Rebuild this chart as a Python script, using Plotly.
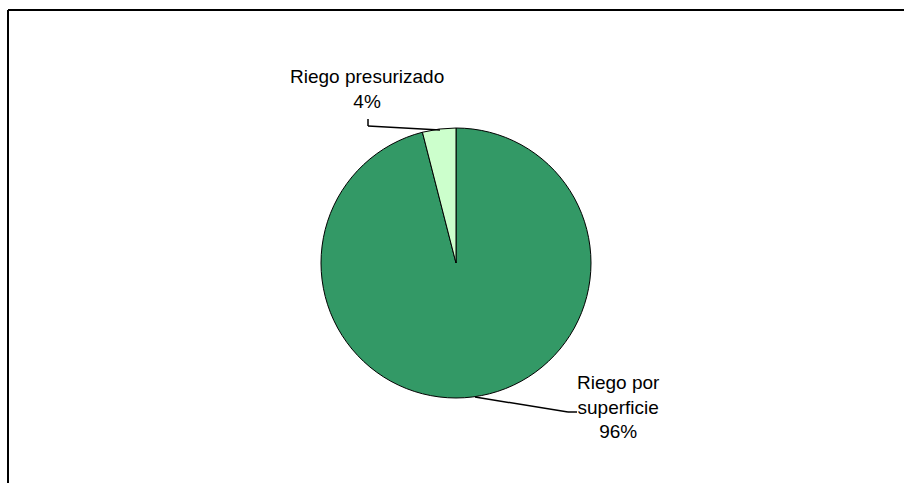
import plotly.graph_objects as go

labels = ["Riego por superficie", "Riego presurizado"]
values = [96, 4]
label_text = ["Riego por<br>superficie", "Riego presurizado"]
colors = ["#339966", "#CCFFCC"]

W, H = 904, 483

def px(x, y):
    return x / W, 1 - y / H

cx, cy, r = 456, 263, 135
x0, y0 = px(cx - r, cy + r)
x1, y1 = px(cx + r, cy - r)

fig = go.Figure(go.Pie(
    labels=labels,
    values=values,
    sort=False,
    direction="clockwise",
    rotation=0,
    textinfo="none",
    hoverinfo="label+percent",
    marker=dict(colors=colors, line=dict(color="black", width=1)),
    domain=dict(x=[x0, x1], y=[y0, y1]),
    showlegend=False,
))

total = sum(values)
ann_pos = [(618, 407), (367, 89)]
annotations = []
for txt, v, (ax, ay) in zip(label_text, values, ann_pos):
    xx, yy = px(ax, ay)
    annotations.append(dict(
        x=xx, y=yy, xref="paper", yref="paper",
        text=f"{txt}<br>{round(100 * v / total)}%",
        showarrow=False, xanchor="center", yanchor="middle",
        font=dict(family="Liberation Sans, Arial", size=19, color="black"),
    ))

def seg(p, q, w=1.5):
    a, b = px(*p)
    c, d = px(*q)
    return dict(type="line", xref="paper", yref="paper", x0=a, y0=b, x1=c, y1=d,
                line=dict(color="black", width=w))

shapes = [
    seg((8, 10), (990, 10), 2),
    seg((8, 10), (8, 560), 2),
    seg((368, 119), (368, 126)),
    seg((368, 126), (440, 130)),
    seg((475, 397), (568, 412)),
    seg((568, 412), (577, 412)),
]

fig.update_layout(
    width=W, height=H,
    margin=dict(l=0, r=0, t=0, b=0),
    paper_bgcolor="white",
    plot_bgcolor="white",
    annotations=annotations,
    shapes=shapes,
)

fig.write_html(
    "out.html",
    config={"displayModeBar": False},
    post_script="document.body.style.margin='0';document.body.style.overflow='hidden';",
)
